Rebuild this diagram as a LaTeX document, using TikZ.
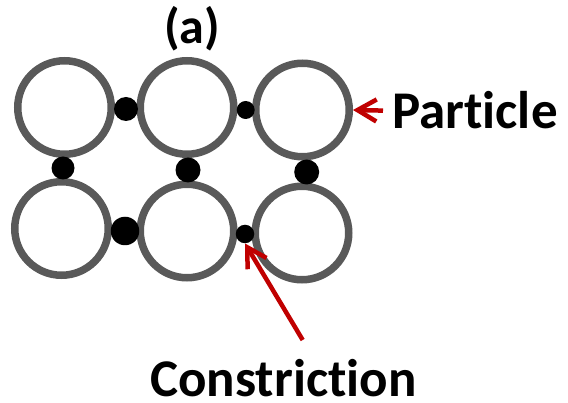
\documentclass[tikz,border=0pt]{standalone}
\usepackage{fontspec}
\setmainfont[Ligatures={NoCommon}]{Carlito}
\usetikzlibrary{arrows.meta, positioning, calc}

\definecolor{grain}{RGB}{89,89,89}
\definecolor{pointer}{RGB}{192,0,0}

\begin{document}
\begin{tikzpicture}[
  x=1pt, y=-1pt,
  grain/.style={draw=grain, circle, line width=7.5pt, minimum size=93.5pt, inner sep=0pt},
  neck/.style={fill=black, circle, inner sep=0pt, minimum size=#1},
  label/.style={font=\fontsize{53}{60}\selectfont\bfseries, inner sep=0pt},
  arrow/.style={draw=pointer, line width=4.5pt, -{Straight Barb[length=19pt, width=22pt]}}
]
\useasboundingbox (0,0) rectangle (568,403);
% particles
\node[grain] (p11) at (64.5,107.5) {};
\node[grain] (p12) at (187,107.5) {};
\node[grain] (p13) at (302.5,110) {};
\node[grain] (p21) at (61.5,228.5) {};
\node[grain] (p22) at (187,231) {};
\node[grain] (p23) at (302,233) {};
% necks between neighbouring particles
\foreach \n/\x/\y/\d in {c1/126/109/24pt, c2/245.7/110/18pt, c3/63/168/23pt,
  c4/188/170/25pt, c5/125/231/28.5pt, c6/245/234/18.5pt, c7/306.7/172/25pt}
  \node[neck=\d] (\n) at (\x,\y) {};
% labels
\node[label, font=\fontsize{50}{56}\selectfont\bfseries, anchor=base] (tag) at (192,44) {(a)};
\node[label, anchor=base west, inner xsep=9pt] (part) at (383,129) {Particle};
\node[label, anchor=base] (cons) at (283.5,396) {Constriction};
\coordinate (ctail) at (302.7,340);
\draw[arrow] (part.west) -- (p13.east);
\draw[arrow] (ctail) -- (c6.south);
\end{tikzpicture}
\end{document}
